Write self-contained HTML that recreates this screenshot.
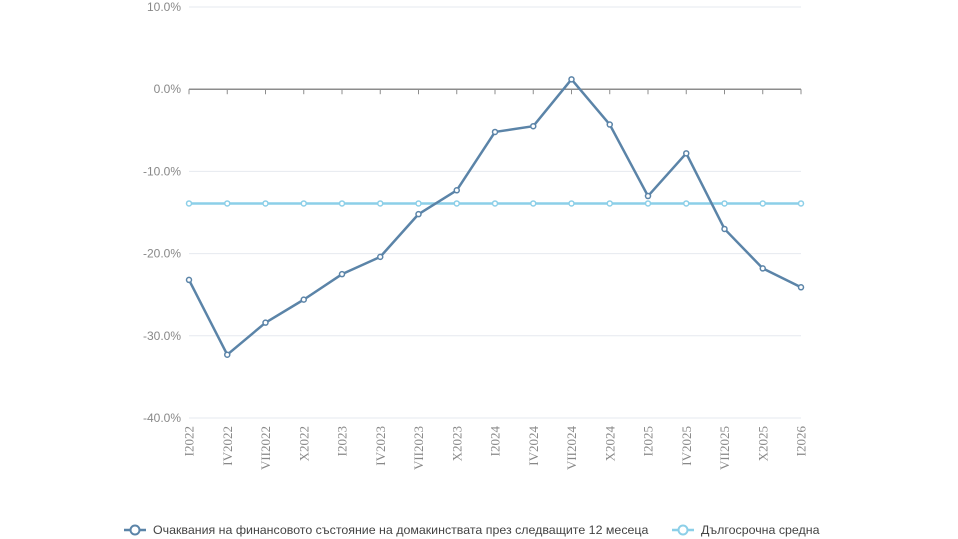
<!DOCTYPE html>
<html><head><meta charset="utf-8"><style>
body{margin:0;background:#fff;}
svg{display:block;font-family:"Liberation Sans","DejaVu Sans",sans-serif;}
</style></head><body>
<svg id="chart" width="958" height="539"></svg>
<script>
const categories=["I2022","IV2022","VII2022","X2022","I2023","IV2023","VII2023","X2023","I2024","IV2024","VII2024","X2024","I2025","IV2025","VII2025","X2025","I2026"];
const expectations=[-23.2,-32.3,-28.4,-25.6,-22.5,-20.4,-15.2,-12.3,-5.2,-4.5,1.2,-4.3,-13.0,-7.8,-17.0,-21.8,-24.1];
const longTermAvg=[-13.9,-13.9,-13.9,-13.9,-13.9,-13.9,-13.9,-13.9,-13.9,-13.9,-13.9,-13.9,-13.9,-13.9,-13.9,-13.9,-13.9];
const yTicks=[10,0,-10,-20,-30,-40];
const seriesNames=["Очаквания на финансовото състояние на домакинствата през следващите 12 месеца","Дългосрочна средна"];

const NS="http://www.w3.org/2000/svg";
const svg=document.getElementById('chart');
const x0=189,x1=801,yTop=7,yBot=418,ymax=10,ymin=-40;
const xs=i=>x0+(x1-x0)*i/(categories.length-1);
const ys=v=>yTop+(ymax-v)/(ymax-ymin)*(yBot-yTop);
function mk(t,a,p){const e=document.createElementNS(NS,t);for(const k in a)e.setAttribute(k,a[k]);(p||svg).appendChild(e);return e;}

yTicks.forEach(v=>{
  const l=mk('line',{x1:x0,x2:x1,y1:ys(v),y2:ys(v),stroke:v===0?'#8c8c8c':'#e6e9ef','stroke-width':v===0?1.5:1});
  
  
  const t=mk('text',{x:x0-8,y:ys(v)+4,'text-anchor':'end','font-size':12,fill:'#888'});
  t.textContent=v.toFixed(1)+'%';
  
  
});
categories.forEach((c,i)=>{
  const tk=mk('line',{x1:xs(i),x2:xs(i),y1:ys(0),y2:ys(0)+5,stroke:'#8c8c8c'});
  
  
  const t=mk('text',{x:0,y:0,'text-anchor':'end','font-size':13,fill:'#888','font-family':'Liberation Serif, serif',transform:`translate(${xs(i)+4.5},426) rotate(-90)`});
  t.textContent=c;
  
  
});
function series(vals,color,name){
  const g=mk('g',{});
  
  
  mk('polyline',{points:vals.map((v,i)=>xs(i)+','+ys(v)).join(' '),fill:'none',stroke:color,'stroke-width':2.5,'stroke-linejoin':'round'},g);
  vals.forEach((v,i)=>{
    const c=mk('circle',{cx:xs(i),cy:ys(v),r:2.5,fill:'#fff',stroke:color,'stroke-width':1.5},g);
    
    
  });
}
series(longTermAvg,'#8ccfe8','long-term-average-series');
series(expectations,'#5b84a8','expectations-series');

function legend(x,color,label,name){
  const g=mk('g',{});
  
  
  mk('line',{x1:x,x2:x+22,y1:530,y2:530,stroke:color,'stroke-width':2.5},g);
  mk('circle',{cx:x+11,cy:530,r:4.5,fill:'#fff',stroke:color,'stroke-width':2},g);
  const t=mk('text',{x:x+29,y:534,'font-size':12.4,fill:'#444'},g);
  t.textContent=label;
}
legend(124,'#5b84a8',seriesNames[0],'legend-expectations');
legend(672,'#8ccfe8',seriesNames[1],'legend-long-term-average');
</script>
</body></html>
